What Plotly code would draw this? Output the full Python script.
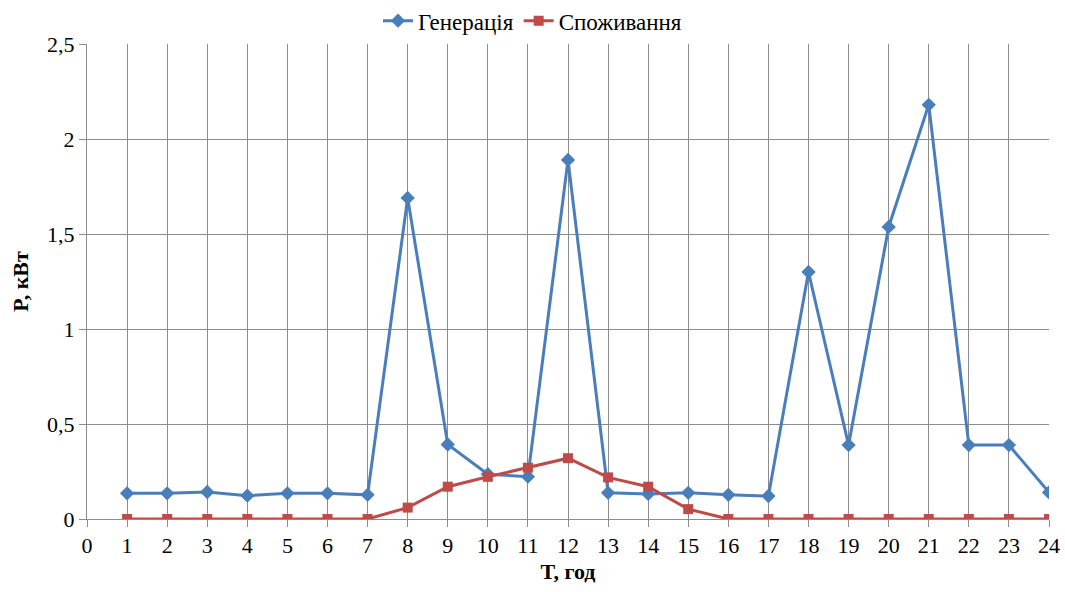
import plotly.graph_objects as go

hours = list(range(1, 25))
generation = [0.135, 0.135, 0.142, 0.123, 0.135, 0.135, 0.127, 1.69, 0.392, 0.236, 0.223, 1.89,
              0.138, 0.132, 0.138, 0.127, 0.121, 1.30, 0.389, 1.537, 2.18, 0.389, 0.389, 0.14]
consumption = [0, 0, 0, 0, 0, 0, 0, 0.06, 0.17, 0.222, 0.27, 0.32,
               0.219, 0.17, 0.052, 0, 0, 0, 0, 0, 0, 0, 0, 0]

x_ticks = list(range(0, 25))
y_ticks = [0, 0.5, 1, 1.5, 2, 2.5]
y_tick_labels = ["0", "0,5", "1", "1,5", "2", "2,5"]

grid_color = "#8c8c8c"
fam = "Liberation Serif"

fig = go.Figure()
fig.add_trace(go.Scatter(
    x=hours, y=generation, name="Генерація", mode="lines+markers",
    line=dict(color="#4A7EBB", width=3),
    marker=dict(symbol="diamond", size=11, color="#4A7EBB"),
))
fig.add_trace(go.Scatter(
    x=hours, y=consumption, name="Споживання", mode="lines+markers",
    line=dict(color="#BE4B48", width=3),
    marker=dict(symbol="square", size=10, color="#BE4B48"),
))

fig.update_layout(
    width=1065, height=592,
    margin=dict(l=87, r=16, t=44, b=73),
    paper_bgcolor="white", plot_bgcolor="white",
    font=dict(family=fam, size=22, color="black"),
    legend=dict(orientation="h", x=0.5, xanchor="center", xref="container",
                y=0.965, yanchor="middle", yref="container",
                font=dict(family=fam, size=23, color="black"),
                bgcolor="rgba(0,0,0,0)", itemwidth=30),
    showlegend=True,
)
fig.update_xaxes(
    range=[0, 24], tickmode="array", tickvals=x_ticks, ticktext=[str(v) for v in x_ticks],
    showgrid=True, gridcolor=grid_color, gridwidth=1,
    showline=True, linecolor=grid_color, linewidth=1,
    ticks="outside", ticklen=7, tickcolor=grid_color,
    zeroline=False, automargin=False,
    tickfont=dict(family=fam, size=22, color="black"),
    title=dict(text="<b>T, год</b>", standoff=6, font=dict(family=fam, size=22, color="black")),
)
fig.update_yaxes(
    range=[0, 2.5], tickmode="array", tickvals=y_ticks, ticktext=y_tick_labels,
    showgrid=True, gridcolor=grid_color, gridwidth=1,
    showline=True, linecolor=grid_color, linewidth=1,
    ticks="outside", ticklen=7, tickcolor=grid_color,
    zeroline=False, automargin=False,
    tickfont=dict(family=fam, size=22, color="black"),
    title=dict(text="<b>P, кВт</b>", standoff=12, font=dict(family=fam, size=22, color="black")),
)
fig.write_html("out.html")
